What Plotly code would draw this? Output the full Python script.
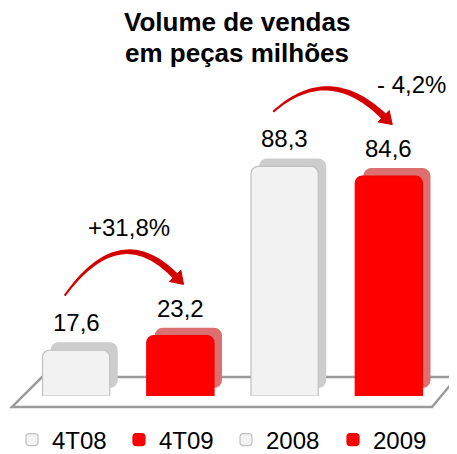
import numpy as np
import plotly.graph_objects as go

# ---------------- data ----------------
categories = ["4T08", "4T09", "2008", "2009"]
values = [17.6, 23.2, 88.3, 84.6]
growth_pairs = [(0, 1), (2, 3)]
title_lines = ["Volume de vendas", "em peças milhões"]

# ---------------- style ----------------
FONT = "Liberation Sans, Arial, sans-serif"
FRONT = ["#f2f2f2", "#ff0000", "#f2f2f2", "#ff0000"]
SIDE = ["#cdcdcd", "#dc6f6f", "#cdcdcd", "#dc6f6f"]
EDGE = ["#c0c0c0", "#f20000", "#c0c0c0", "#f20000"]
ARROW = "#d30000"

# page body has an 8px margin: figure drawn at (8, 8) of the window
OFF = 8
W, H = 457 - OFF, 454 - OFF
# plot area in window pixels
PX0, PX1, PY0, PY1 = 24, 441, 58, 396
ML, MR, MT, MB = PX0 - OFF, (W + OFF) - PX1, PY0 - OFF, (H + OFF) - PY1
XR = (-0.5, len(categories) - 0.5)
YR = (0, 130)
PW, PH = PX1 - PX0, PY1 - PY0
UX = PW / (XR[1] - XR[0])
UY = PH / (YR[1] - YR[0])


def to_px(x, y):
    return PX0 + (x - XR[0]) * UX, PY1 - (y - YR[0]) * UY


def to_data(px, py):
    return XR[0] + (px - PX0) / UX, YR[0] + (PY1 - py) / UY


def to_paper(px, py):
    return (px - PX0) / PW, (PY1 - py) / PH


def fmt(v):
    return f"{v:.1f}".replace(".", ",")


x_pos = list(range(len(categories)))
BAR_W = 0.645
DX = 8 / UX
DY = 8 / UY

fig = go.Figure()

# 3D side/back faces
for i, (x, v) in enumerate(zip(x_pos, values)):
    fig.add_trace(go.Bar(
        x=[x], y=[v], base=[DY], width=[BAR_W], offset=-BAR_W / 2 + DX,
        marker=dict(color=SIDE[i], cornerradius=8, line=dict(width=0)),
        showlegend=False, hoverinfo="skip",
    ))

# front faces
for i, (x, v) in enumerate(zip(x_pos, values)):
    fig.add_trace(go.Bar(
        x=[x], y=[v], width=[BAR_W], offset=-BAR_W / 2, name=categories[i],
        marker=dict(color=FRONT[i], cornerradius=7,
                    line=dict(color=EDGE[i], width=1.2)),
    ))

shapes = []
# floor
floor_px = [(12, 407), (432, 407), (457, 377), (42, 377)]
pts = [to_paper(*p) for p in floor_px]
path = "M " + " L ".join(f"{a:.4f},{b:.4f}" for a, b in pts) + " Z"
shapes.append(dict(type="path", xref="paper", yref="paper", path=path,
                   line=dict(color="#9a9a9a", width=2.5), fillcolor="white",
                   layer="below"))

annotations = []
# title (two lines)
for line, py in zip(title_lines, (22, 53)):
    px_, py_ = to_paper(237, py)
    annotations.append(dict(x=px_, y=py_, xref="paper", yref="paper",
                            text=f"<b>{line}</b>", showarrow=False,
                            xanchor="center", yanchor="middle",
                            font=dict(family=FONT, size=26, color="black")))

# value labels
for x, v in zip(x_pos, values):
    annotations.append(dict(x=x, y=v, text=fmt(v), showarrow=False,
                            yanchor="bottom", yshift=12,
                            font=dict(family=FONT, size=24, color="black")))

# growth arrows
START_OFF, END_OFF, LIFT = 21, 23, 9
for k, (a, b) in enumerate(growth_pairs):
    xs, ys = x_pos[a] - 0.11, values[a] + START_OFF
    xe, ye = x_pos[b] - 0.05, values[b] + END_OFF
    peak = max(ys, ye) + LIFT
    xc = (xs + xe) / 2
    yc = 2 * peak - (ys + ye) / 2
    P0 = np.array(to_px(xs, ys))
    C = np.array(to_px(xc, yc))
    P1 = np.array(to_px(xe, ye))
    t = np.linspace(0, 1, 40)[:, None]
    curve = (1 - t) ** 2 * P0 + 2 * (1 - t) * t * C + t ** 2 * P1
    deriv = 2 * (1 - t) * (C - P0) + 2 * t * (P1 - C)
    tang = deriv / np.linalg.norm(deriv, axis=1, keepdims=True)
    normal = np.stack([-tang[:, 1], tang[:, 0]], axis=1)
    hw = (1.0 + 2.4 * t)
    left = curve + normal * hw
    right = curve - normal * hw
    poly = np.vstack([left, right[::-1]])
    dpts = [to_data(px, py) for px, py in poly]
    path = "M " + " L ".join(f"{p[0]:.4f},{p[1]:.4f}" for p in dpts) + " Z"
    shapes.append(dict(type="path", xref="x", yref="y", path=path,
                       fillcolor=ARROW, line=dict(width=0), layer="above"))
    # head
    d = tang[-1]
    n = normal[-1]
    base = P1
    tip = base + d * 12
    h1 = base + n * 8
    h2 = base - n * 8
    hp = [to_data(*p) for p in (h1, tip, h2)]
    path = "M " + " L ".join(f"{p[0]:.4f},{p[1]:.4f}" for p in hp) + " Z"
    shapes.append(dict(type="path", xref="x", yref="y", path=path,
                       fillcolor=ARROW, line=dict(color=ARROW, width=1),
                       layer="above"))
    g = (values[b] / values[a] - 1) * 100
    txt = f"+{fmt(g)}%" if g >= 0 else f"- {fmt(abs(g))}%"
    if k == 0:
        ax, ay, ysh = xc + 0.09, peak, 25
    else:
        ax, ay, ysh = x_pos[b] + 0.22, peak, 4
    annotations.append(dict(x=ax, y=ay, text=txt, showarrow=False,
                            yanchor="middle", yshift=ysh,
                            font=dict(family=FONT, size=24, color="black")))

lx, ly = to_paper(12, 440)
fig.update_layout(
    width=W, height=H,
    margin=dict(l=ML, r=MR, t=MT, b=MB, pad=0, autoexpand=False),
    paper_bgcolor="white", plot_bgcolor="rgba(0,0,0,0)",
    barmode="overlay",
    xaxis=dict(range=list(XR), visible=False, fixedrange=True),
    yaxis=dict(range=list(YR), visible=False, fixedrange=True),
    legend=dict(orientation="h", x=lx, xanchor="left", y=ly,
                yanchor="middle", font=dict(family=FONT, size=24, color="black"),
                itemwidth=30, entrywidth=62, entrywidthmode="pixels",
                bgcolor="rgba(0,0,0,0)", traceorder="normal"),
    shapes=shapes, annotations=annotations,
    showlegend=True,
)

fig.write_html("out.html")
